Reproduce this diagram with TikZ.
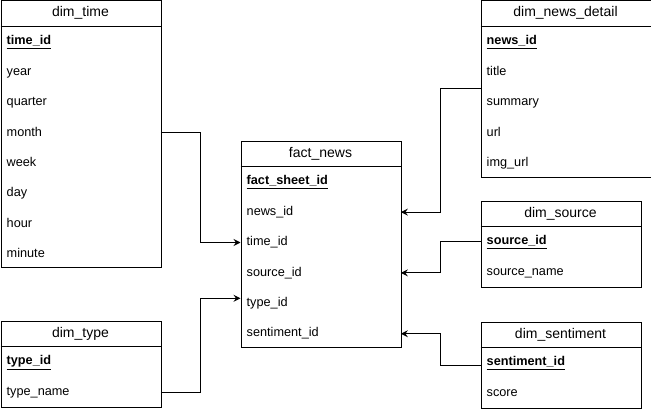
\documentclass[tikz,border=0pt]{standalone}
\usepackage{fontspec}
\setmainfont{Liberation Sans}
\usetikzlibrary{arrows.meta}
\begin{document}
\begin{tikzpicture}[x=1pt,y=-1pt,
  box/.style={draw, line width=1pt, anchor=north west, inner sep=0pt, fill=white},
  hdr/.style={font=\fontsize{14}{16}\selectfont, anchor=center, inner sep=0pt, text height=10pt, text depth=3pt},
  row/.style={anchor=north west, minimum height=30pt, inner xsep=6pt, inner ysep=0pt, align=left, text height=9pt, text depth=2.5pt, font=\fontsize{12.7}{14}\selectfont},
  divl/.style={line width=1pt},
  arr/.style={line width=1pt, -{Stealth[length=7pt,width=7pt,inset=2.5pt]}}]
\useasboundingbox (0,0) rectangle (651,412);
\fill[white] (0,0) rectangle (651,412);

% dim_time
\node[box, minimum width=160pt, minimum height=266pt] (dt) at (0.5,0.5) {};
\node[hdr] (dth) at (80.5,13.5) {dim\_time};
\draw[divl] ([yshift=-26pt]dt.north west) -- ([yshift=-26pt]dt.north east);
\node[row, text width=148pt] (dt1) at (0.5,26.5) {\underline{\textbf{time\_id}}};
\node[row, text width=148pt] (dt2) at (dt1.south west) {year};
\node[row, text width=148pt] (dt3) at (dt2.south west) {quarter};
\node[row, text width=148pt] (dt4) at (dt3.south west) {month};
\node[row, text width=148pt] (dt5) at (dt4.south west) {week};
\node[row, text width=148pt] (dt6) at (dt5.south west) {day};
\node[row, text width=148pt] (dt7) at (dt6.south west) {hour};
\node[row, text width=148pt] (dt8) at (dt7.south west) {minute};

% fact_news
\node[box, minimum width=160pt, minimum height=206pt] (fn) at (240.5,140.5) {};
\node[hdr] (fnh) at (320.5,153.5) {fact\_news};
\draw[divl] ([yshift=-26pt]fn.north west) -- ([yshift=-26pt]fn.north east);
\node[row, text width=148pt] (fn1) at (240.5,166.5) {\underline{\textbf{fact\_sheet\_id}}};
\node[row, text width=148pt] (fn2) at (fn1.south west) {news\_id};
\node[row, text width=148pt] (fn3) at (fn2.south west) {time\_id};
\node[row, text width=148pt] (fn4) at (fn3.south west) {source\_id};
\node[row, text width=148pt] (fn5) at (fn4.south west) {type\_id};
\node[row, text width=148pt] (fn6) at (fn5.south west) {sentiment\_id};

% dim_news_detail
\node[box, minimum width=170pt, minimum height=176pt] (nd) at (480.5,0.5) {};
\node[hdr] (ndh) at (565.5,13.5) {dim\_news\_detail};
\draw[divl] ([yshift=-26pt]nd.north west) -- ([yshift=-26pt]nd.north east);
\node[row, text width=158pt] (nd1) at (480.5,26.5) {\underline{\textbf{news\_id}}};
\node[row, text width=158pt] (nd2) at (nd1.south west) {title};
\node[row, text width=158pt] (nd3) at (nd2.south west) {summary};
\node[row, text width=158pt] (nd4) at (nd3.south west) {url};
\node[row, text width=158pt] (nd5) at (nd4.south west) {img\_url};

% dim_source
\node[box, minimum width=160pt, minimum height=86pt] (ds) at (480.5,200.5) {};
\node[hdr] (dsh) at (560.5,213.5) {dim\_source};
\draw[divl] ([yshift=-26pt]ds.north west) -- ([yshift=-26pt]ds.north east);
\node[row, text width=148pt] (ds1) at (480.5,226.5) {\underline{\textbf{source\_id}}};
\node[row, text width=148pt] (ds2) at (ds1.south west) {source\_name};

% dim_type
\node[box, minimum width=160pt, minimum height=86pt] (dy) at (0.5,320.5) {};
\node[hdr] (dyh) at (80.5,333.5) {dim\_type};
\draw[divl] ([yshift=-26pt]dy.north west) -- ([yshift=-26pt]dy.north east);
\node[row, text width=148pt] (dy1) at (0.5,346.5) {\underline{\textbf{type\_id}}};
\node[row, text width=148pt] (dy2) at (dy1.south west) {type\_name};

% dim_sentiment
\node[box, minimum width=160pt, minimum height=86pt] (se) at (480.5,321.5) {};
\node[hdr] (seh) at (560.5,334.5) {dim\_sentiment};
\draw[divl] ([yshift=-26pt]se.north west) -- ([yshift=-26pt]se.north east);
\node[row, text width=148pt] (se1) at (480.5,347.5) {\underline{\textbf{sentiment\_id}}};
\node[row, text width=148pt] (se2) at (se1.south west) {score};

% connectors
\draw[arr] (dt4.east) -- ++(40,0) |- (fn3.west);
\draw[arr] (nd.west) -- ++(-40,0) |- (fn2.east);
\draw[arr] (ds1.west) -- ++(-40,0) |- (fn4.east);
\draw[arr] ([yshift=-3pt]se1.west) -- ++(-40,0) |- (fn6.east);
\draw[arr] (dy2.east) -- ++(40,0) |- ([yshift=5pt]fn5.west);
\end{tikzpicture}
\end{document}
